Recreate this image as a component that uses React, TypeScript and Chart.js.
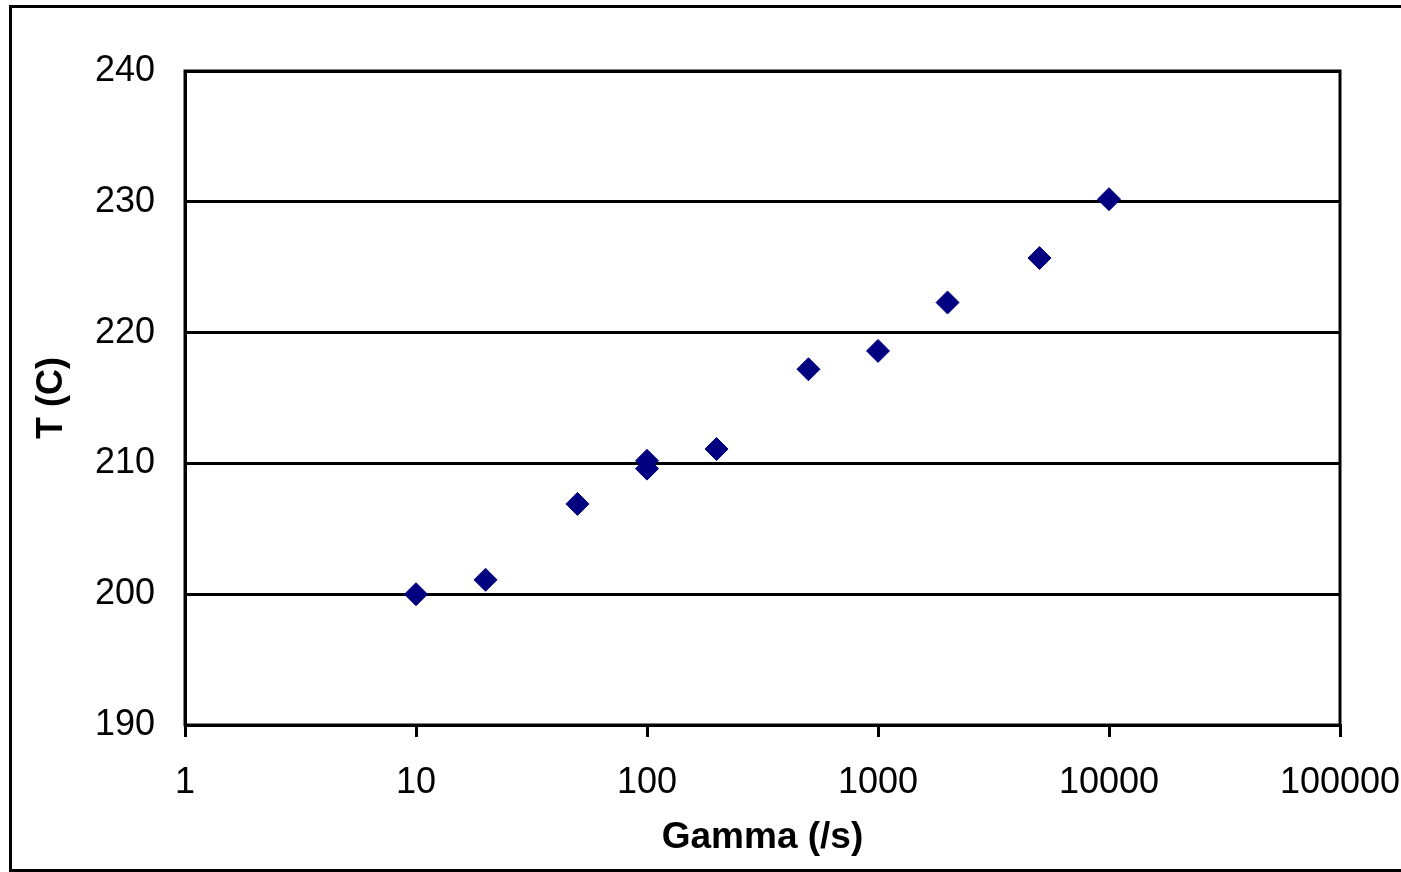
import React, { useEffect, useRef } from "react";
import { Chart, registerables } from "chart.js";

Chart.register(...registerables);

// Shear rate (1/s) and measured temperature (C)
const gammaValues = [10, 20, 50, 100, 100, 200, 500, 1000, 2000, 5000, 10000];
const temperatureValues = [200, 201.1, 206.9, 209.6, 210.2, 211.1, 217.2, 218.6, 222.3, 225.7, 230.2];
const xTickValues = [1, 10, 100, 1000, 10000, 100000];
const yTickValues = [190, 200, 210, 220, 230, 240];

const FONT = "'Liberation Sans', Arial, Helvetica, sans-serif";

// Frames: outer chart border and the plot-area box
const framePlugin = {
  id: "frames",
  afterDraw(chart: any) {
    const { ctx, chartArea } = chart;
    ctx.save();
    ctx.strokeStyle = "#000";
    ctx.lineWidth = 3;
    ctx.strokeRect(chartArea.left, chartArea.top, chartArea.right - chartArea.left, chartArea.bottom - chartArea.top);
    ctx.beginPath();
    ctx.moveTo(1410, 6.5);
    ctx.lineTo(10.5, 6.5);
    ctx.lineTo(10.5, 870.5);
    ctx.lineTo(1410, 870.5);
    ctx.stroke();
    ctx.restore();
  },
};

export default function App() {
  const canvasRef = useRef<HTMLCanvasElement | null>(null);

  useEffect(() => {
    if (!canvasRef.current) return;
    const data = gammaValues.map((g, i) => ({ x: g, y: temperatureValues[i] }));
    const chart = new Chart(canvasRef.current, {
      type: "scatter",
      data: {
        datasets: [
          {
            data,
            pointStyle: "rectRot",
            pointRadius: 11.5,
            pointHoverRadius: 11.5,
            backgroundColor: "#000080",
            borderColor: "#000080",
            borderWidth: 1,
          },
        ],
      },
      plugins: [framePlugin],
      options: {
        animation: false,
        responsive: false,
        devicePixelRatio: 1,
        layout: { padding: { left: 0, top: 71, right: 61, bottom: 0 } },
        plugins: {
          legend: { display: false },
          tooltip: { enabled: false },
        },
        scales: {
          x: {
            type: "logarithmic",
            min: 1,
            max: 100000,
            afterBuildTicks(scale: any) {
              scale.ticks = xTickValues.map((v) => ({ value: v }));
            },
            afterFit(scale: any) {
              scale.height = 147;
              scale.paddingLeft = 0;
              scale.paddingRight = 0;
            },
            grid: {
              drawOnChartArea: false,
              drawTicks: true,
              tickLength: 12,
              tickWidth: 3,
              tickColor: "#000",
              color: "#000",
              lineWidth: 3,
            },
            border: { display: true, color: "#000", width: 3 },
            ticks: {
              color: "#000",
              font: { family: FONT, size: 36 },
              padding: 24,
              maxRotation: 0,
              autoSkip: false,
              callback: (v: any) => String(v),
            },
            title: {
              display: true,
              text: "Gamma (/s)",
              color: "#000",
              font: { family: FONT, size: 37, weight: "bold" },
              padding: { top: 0, bottom: 12 },
            },
          },
          y: {
            min: 190,
            max: 240,
            afterBuildTicks(scale: any) {
              scale.ticks = yTickValues.map((v) => ({ value: v }));
            },
            afterFit(scale: any) {
              scale.width = 185;
            },
            grid: {
              drawTicks: false,
              color: "#000",
              lineWidth: 3,
            },
            border: { display: true, color: "#000", width: 3 },
            ticks: {
              color: "#000",
              font: { family: FONT, size: 36 },
              padding: 30,
              callback: (v: any) => String(v),
            },
            title: {
              display: true,
              text: "T (C)",
              color: "#000",
              font: { family: FONT, size: 36, weight: "bold" },
              padding: { top: 30, bottom: 0 },
            },
          },
        },
      },
    } as any);
    return () => chart.destroy();
  }, []);

  return (
    <div style={{ position: "absolute", left: 0, top: 0, width: 1401, height: 872, background: "#fff", overflow: "hidden" }}>
      <canvas ref={canvasRef} width={1401} height={872} style={{ display: "block" }} />
    </div>
  );
}
